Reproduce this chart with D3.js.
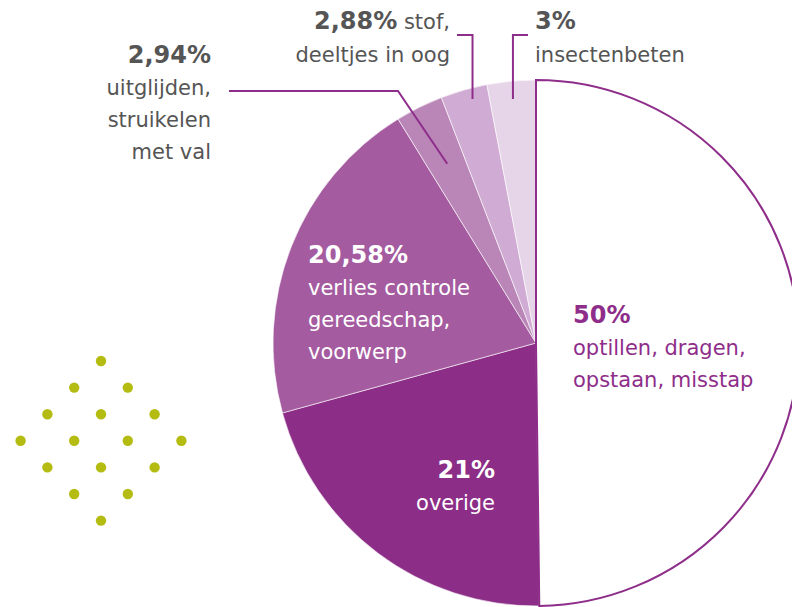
<!DOCTYPE html>
<html lang="nl">
<head>
  <meta charset="UTF-8">
  <title>Oorzaken ongevallen</title>
  <style>
    body { margin: 0; background: #fff; }
    text { font-family: "DejaVu Sans", Lato, sans-serif; }
  </style>
</head>
<body>
  <svg id="chart" width="792" height="607"></svg>

  <script src="https://d3js.org/d3.v7.min.js"></script>
  <script>
    // data
    var categories = ["optillen, dragen, opstaan, misstap", "overige", "verlies controle gereedschap, voorwerp",
      "uitglijden, struikelen met val", "stof, deeltjes in oog", "insectenbeten"];
    var values = [50, 21, 20.58, 2.94, 2.88, 3];
    var valueLabels = ["50%", "21%", "20,58%", "2,94%", "2,88%", "3%"];
    var sliceColors = ["#ffffff", "#8c2d87", "#a45b9f", "#b986b7", "#d0abd3", "#e6d5e8"];

    var svg = d3.select("#chart"),
      cx = 536, cy = 343, r = 263,
      purple = "#8e2e8a",
      grey = "#555555";

    // decorative dot diamond
    var dots = [];
    for (var i = 0; i < 4; i++) {
      for (var j = 0; j < 4; j++) {
        dots.push({ x: 101 + (j - i) * 26.8, y: 361 + (i + j) * 26.6 });
      }
    }
    svg.append("g").selectAll("circle")
      .data(dots)
      .join("circle")
      .attr("cx", function(d) { return d.x; })
      .attr("cy", function(d) { return d.y; })
      .attr("r", 5.2)
      .attr("fill", "#b4bc12");

    var pie = d3.pie().sort(null).value(function(d) { return d; });
    var arcs = pie(values);
    var arc = d3.arc().innerRadius(0).outerRadius(r);

    var g = svg.append("g").attr("transform", "translate(" + cx + "," + cy + ")");

    // coloured slices first, white one on top with purple outline
    g.selectAll("path.slice")
      .data(arcs.slice(1))
      .join("path")
      .attr("class", "slice")
      .attr("d", arc)
      .attr("fill", function(d, i) { return sliceColors[i + 1]; })
      .attr("stroke", "#fff")
      .attr("stroke-width", 0.6);

    g.append("path")
      .attr("d", arc(arcs[0]))
      .attr("fill", sliceColors[0])
      .attr("stroke", purple)
      .attr("stroke-width", 2);

    // leader lines for the small slices
    function pointAt(d, rad) {
      var a = (d.startAngle + d.endAngle) / 2;
      return [cx + rad * Math.sin(a), cy - rad * Math.cos(a)];
    }
    var p294 = pointAt(arcs[3], 200),
      p288 = pointAt(arcs[4], 246),
      p3 = pointAt(arcs[5], 246);

    var leaders = [
      [[229, 91], [398, 91], p294],
      [[457, 35], [p288[0] + 4, 35], [p288[0] + 4, 99]],
      [[528, 35], [p3[0], 35], [p3[0], 99]]
    ];
    svg.append("g").selectAll("path")
      .data(leaders)
      .join("path")
      .attr("d", d3.line())
      .attr("fill", "none")
      .attr("stroke", purple)
      .attr("stroke-width", 2);

    // labels
    function label(x, y, anchor, color, lines, gap) {
      var t = svg.append("text")
        .attr("x", x).attr("y", y)
        .attr("text-anchor", anchor)
        .attr("fill", color);
      lines.forEach(function(l, k) {
        t.append("tspan")
          .attr("x", x)
          .attr("dy", k === 0 ? 0 : (gap || 32))
          .attr("font-size", k === 0 ? 24 : 21)
          .attr("font-weight", k === 0 ? 700 : 400)
          .text(l);
      });
      return t;
    }

    label(211, 63, "end", grey, [valueLabels[3], "uitglijden,", "struikelen", "met val"]);

    var t288 = svg.append("text").attr("x", 450).attr("y", 29).attr("text-anchor", "end").attr("fill", grey);
    t288.append("tspan").attr("font-size", 24).attr("font-weight", 700).text(valueLabels[4]);
    t288.append("tspan").attr("font-size", 21).text(" stof,");
    svg.append("text").attr("x", 450).attr("y", 62).attr("text-anchor", "end")
      .attr("fill", grey).attr("font-size", 21).text("deeltjes in oog");

    label(535, 29, "start", grey, [valueLabels[5], categories[5]], 33);

    label(308, 263, "start", "#fff", [valueLabels[2], "verlies controle", "gereedschap,", "voorwerp"]);
    label(573, 323, "start", purple, [valueLabels[0], "optillen, dragen,", "opstaan, misstap"]);
    label(495, 478, "end", "#fff", [valueLabels[1], categories[1]]);
  </script>
</body>
</html>
